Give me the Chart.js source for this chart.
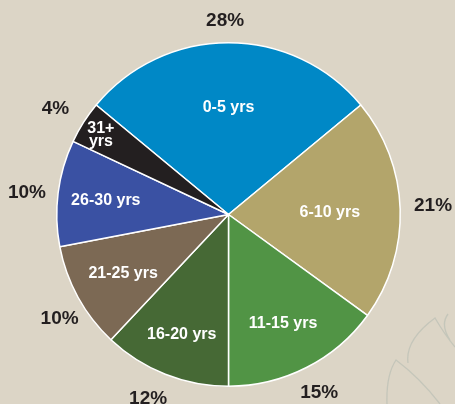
<!DOCTYPE html>
<html>
<head>
<meta charset="utf-8">
<script src="https://cdn.jsdelivr.net/npm/chart.js@4/dist/chart.umd.min.js"></script>
<style>
  html, body { margin: 0; padding: 0; background: #dcd5c6; }
  #wrap { width: 455px; height: 404px; position: relative; }
</style>
</head>
<body>
<div id="wrap"><canvas id="yearsChart"></canvas></div>
<script>
// Years of service share
const categories = ['0-5 yrs', '6-10 yrs', '11-15 yrs', '16-20 yrs', '21-25 yrs', '26-30 yrs', '31+ yrs'];
const shares = [28, 21, 15, 12, 10, 10, 4];
const pctLabels = ['28%', '21%', '15%', '12%', '10%', '10%', '4%'];

const colors = ['#0088c6', '#b3a56b', '#519445', '#466935', '#7c6954', '#3a51a3', '#231f20'];
// where the labels sit: inside as a fraction of radius, outside as px past the rim
const innerPos = [0.63, 0.59, 0.70, 0.74, 0.70, 0.72, 0.88];
const outerGap = [22, 33, 28, 29, 27, 31, 31];
const outerTurn = [-1, -0.6, 0, 2, -3, -1, -1]; // degrees

// faint leaf outline in the bottom right corner
const backdrop = {
    id: 'backdrop',
    beforeDraw(chart) {
        const c = chart.ctx;
        c.save();
        c.strokeStyle = 'rgba(188, 192, 182, 0.75)';
        c.lineWidth = 1.3;
        c.beginPath();
        c.moveTo(387, 404);
        c.quadraticCurveTo(386, 375, 396, 360);
        c.quadraticCurveTo(420, 378, 440, 404);
        c.moveTo(408, 363);
        c.quadraticCurveTo(405, 340, 435, 318);
        c.quadraticCurveTo(445, 335, 455, 347);
        c.moveTo(448, 314);
        c.quadraticCurveTo(440, 325, 450, 340);
        c.stroke();
        c.restore();
    }
};

const sliceLabels = {
    id: 'sliceLabels',
    afterDatasetsDraw(chart) {
        const ctx = chart.ctx;
        const arcs = chart.getDatasetMeta(0).data;
        ctx.save();
        ctx.textAlign = 'center';
        ctx.textBaseline = 'middle';
        arcs.forEach((arc, i) => {
            const mid = (arc.startAngle + arc.endAngle) / 2;
            const r = arc.outerRadius;
            // name inside
            ctx.fillStyle = '#ffffff';
            ctx.font = 'bold 16px "Liberation Sans", Arial, sans-serif';
            const ix = arc.x + Math.cos(mid) * r * innerPos[i];
            const iy = arc.y + Math.sin(mid) * r * innerPos[i] + 1.5;
            const parts = categories[i] === '31+ yrs' ? ['31+', 'yrs'] : [categories[i]];
            parts.forEach((p, k) => {
                ctx.fillText(p, ix, iy + (k - (parts.length - 1) / 2) * 13);
            });
            // percent outside
            ctx.fillStyle = '#231f20';
            ctx.font = 'bold 19px "Liberation Sans", Arial, sans-serif';
            const a = mid + outerTurn[i] * Math.PI / 180;
            const ox = arc.x + Math.cos(a) * (r + outerGap[i]);
            const oy = arc.y + Math.sin(a) * (r + outerGap[i]);
            ctx.fillText(pctLabels[i], ox, oy);
        });
        ctx.restore();
    }
};

const ctx = document.getElementById('yearsChart').getContext('2d');
const yearsChart = new Chart(ctx, {
    type: 'pie',
    data: {
        labels: categories,
        datasets: [{
            data: shares,
            backgroundColor: colors,
            borderColor: '#ffffff',
            borderWidth: 1.5
        }]
    },
    options: {
        responsive: true,
        maintainAspectRatio: false,
        animation: false,
        rotation: -50.4,
        layout: { padding: { top: 42, bottom: 17, left: 56, right: 54 } },
        plugins: {
            legend: { display: false },
            tooltip: { enabled: false }
        }
    },
    plugins: [backdrop, sliceLabels]
});
</script>
</body>
</html>
